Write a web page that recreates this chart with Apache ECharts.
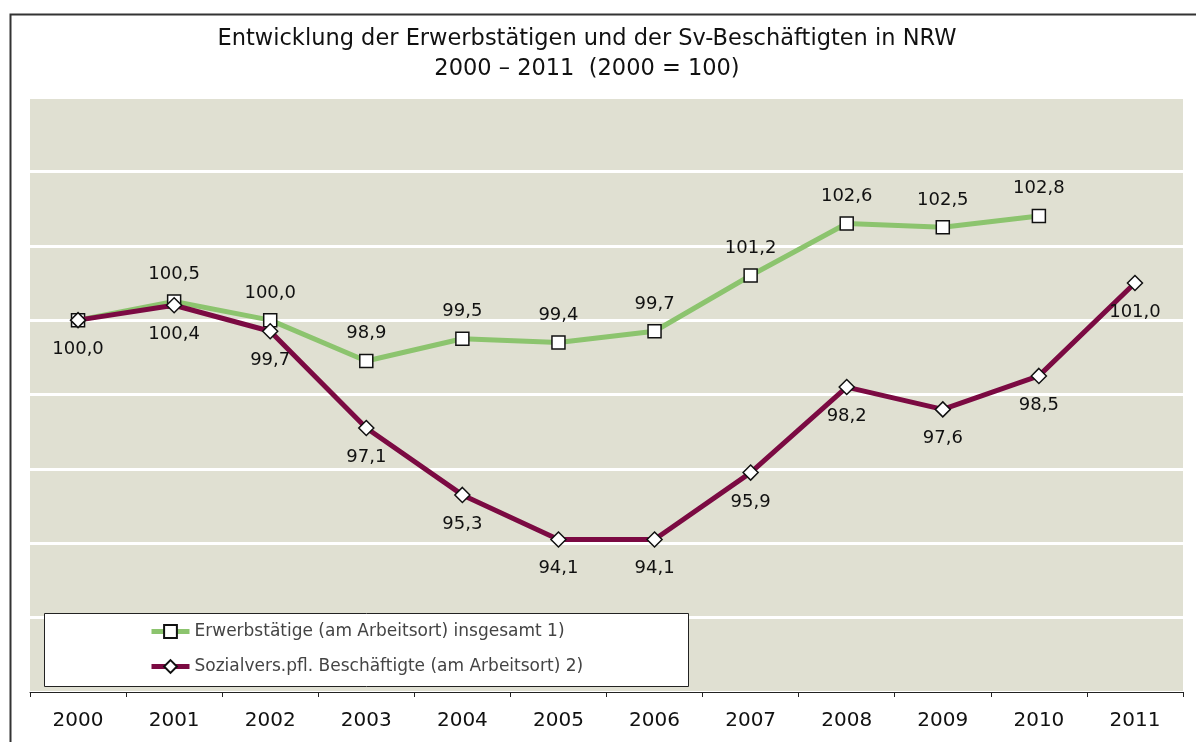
<!DOCTYPE html>
<html>
<head>
<meta charset="utf-8">
<script src="https://cdn.jsdelivr.net/npm/echarts@6/dist/echarts.min.js"></script>
<style>
  html, body { margin: 0; padding: 0; background: #fff; }
  #chart { width: 1196px; height: 742px; }
</style>
</head>
<body>
<div id="chart"></div>
<script>
var years = ['2000', '2001', '2002', '2003', '2004', '2005', '2006', '2007', '2008', '2009', '2010', '2011'];
var erwerbstaetige = [100.0, 100.5, 100.0, 98.9, 99.5, 99.4, 99.7, 101.2, 102.6, 102.5, 102.8, null];
var svBeschaeftigte = [100.0, 100.4, 99.7, 97.1, 95.3, 94.1, 94.1, 95.9, 98.2, 97.6, 98.5, 101.0];

var fontName = 'DejaVu Sans';
var myChart = echarts.init(document.getElementById('chart'));

function fmt(p) {
  return p.value == null ? '' : p.value.toFixed(1).replace('.', ',');
}

var option = {
  animation: false,
  title: {
    text: 'Entwicklung der Erwerbstätigen und der Sv-Beschäftigten in NRW\n2000 – 2011  (2000 = 100)',
    left: 582,
    top: 19,
    textAlign: 'center',
    textStyle: { fontFamily: fontName, fontWeight: 'normal', fontSize: 22.5, lineHeight: 30, color: '#111' }
  },
  graphic: [
    {
      type: 'rect', left: 8, top: 12, z: -1,
      shape: { width: 1300, height: 800 },
      style: { fill: 'none', stroke: '#333', lineWidth: 2 }
    },
    {
      type: 'rect', left: 44, top: 613, z: 10,
      shape: { width: 644, height: 73 },
      style: { fill: '#fff', stroke: '#222', lineWidth: 1 }
    }
  ],
  legend: {
    orient: 'vertical',
    left: 144,
    top: 618,
    itemWidth: 38,
    itemHeight: 16,
    itemGap: 18,
    z: 20,
    lineStyle: { width: 5 },
    textStyle: { fontFamily: fontName, fontSize: 17, color: '#444' },
    data: ['Erwerbstätige (am Arbeitsort) insgesamt 1)', 'Sozialvers.pfl. Beschäftigte (am Arbeitsort) 2)']
  },
  grid: { left: 30, right: 13, top: 97, bottom: 50, show: true, backgroundColor: '#e0e0d2', borderWidth: 0 },
  xAxis: {
    type: 'category',
    data: years,
    boundaryGap: true,
    axisLine: { lineStyle: { color: '#222', width: 1 } },
    axisTick: { show: true, length: 5, lineStyle: { color: '#222' } },
    axisLabel: { fontFamily: fontName, fontSize: 20, color: '#111', margin: 19 }
  },
  yAxis: {
    type: 'value',
    min: 90,
    max: 106,
    interval: 2,
    axisLabel: { show: false },
    axisLine: { show: false },
    axisTick: { show: false },
    splitLine: { lineStyle: { color: '#fff', width: 3 } }
  },
  series: [
    {
      name: 'Erwerbstätige (am Arbeitsort) insgesamt 1)',
      type: 'line',
      data: erwerbstaetige.map(function (v, i) {
        return i === 0 ? { value: v, label: { show: false } } : v;
      }),
      symbol: 'rect',
      symbolSize: 13,
      z: 3,
      lineStyle: { color: '#8cc46e', width: 5 },
      itemStyle: { color: '#fff', borderColor: '#111', borderWidth: 1.5 },
      label: { show: true, position: 'top', distance: 11, formatter: fmt, fontFamily: fontName, fontSize: 18, color: '#111' }
    },
    {
      name: 'Sozialvers.pfl. Beschäftigte (am Arbeitsort) 2)',
      type: 'line',
      data: svBeschaeftigte,
      symbol: 'diamond',
      symbolSize: 15,
      z: 4,
      lineStyle: { color: '#7b0a42', width: 5 },
      itemStyle: { color: '#fff', borderColor: '#111', borderWidth: 1.5 },
      label: { show: true, position: 'bottom', distance: 12, formatter: fmt, fontFamily: fontName, fontSize: 18, color: '#111' }
    }
  ]
};

option && myChart.setOption(option);
</script>
</body>
</html>
